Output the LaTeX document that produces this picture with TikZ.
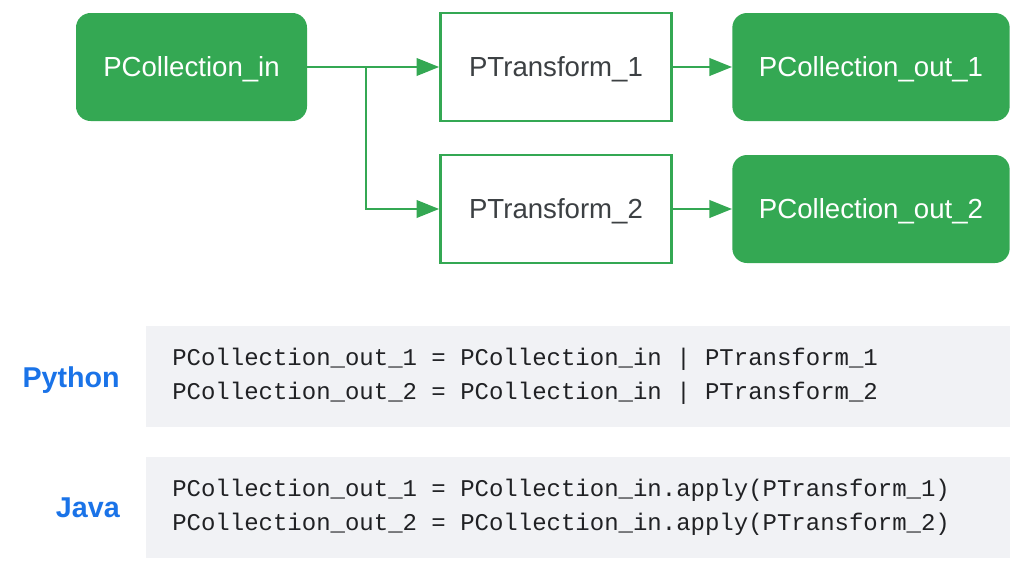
\documentclass[tikz,border=0pt]{standalone}
\usepackage{fontspec}
\setmainfont{Liberation Sans}
\newfontfamily\codefont{Liberation Mono}
\usetikzlibrary{arrows.meta}
\definecolor{gGreen}{HTML}{34A853}
\definecolor{gGray}{HTML}{3C4043}
\definecolor{gCode}{HTML}{202124}
\definecolor{gBg}{HTML}{F1F2F5}
\definecolor{gBlue}{HTML}{1A73E8}
\tikzset{
  pcoll/.style={draw=none, fill=gGreen, rounded corners=11pt, text=white,
    minimum width=208pt, minimum height=81pt, inner sep=0pt,
    font=\fontsize{20.7pt}{24pt}\selectfont, text height=14.8pt, text depth=0pt},
  ptrans/.style={draw=gGreen, line width=2.2pt, fill=white, text=gGray,
    minimum width=173pt, minimum height=81pt, inner sep=0pt,
    font=\fontsize{20.7pt}{24pt}\selectfont, text height=14.8pt, text depth=0pt},
  flow/.style={draw=gGreen, line width=2.2pt, -{Triangle[length=17pt,width=13pt]}},
  codebg/.style={draw=none, fill=gBg, inner sep=0pt},
  codeline/.style={anchor=base west, inner sep=0pt, text=gCode,
    font=\codefont\fontsize{18pt}{22pt}\selectfont},
  lang/.style={anchor=base east, inner sep=0pt, text=gBlue,
    font=\bfseries\fontsize{21.5pt}{25pt}\selectfont}
}
\begin{document}
\begin{tikzpicture}[x=0.75pt,y=-0.75pt]
\useasboundingbox (0,0) rectangle (1017,568);
% nodes
\node[pcoll, minimum width=173.25pt] (in) at (191.5,67) {PCollection\_in};
\node[ptrans] (t1) at (556,67) {PTransform\_1};
\node[ptrans] (t2) at (556,209) {PTransform\_2};
\node[pcoll] (o1) at (871,67) {PCollection\_out\_1};
\node[pcoll] (o2) at (871,209) {PCollection\_out\_2};
\coordinate (j) at (366,67);
% connectors
\draw[flow] (in.east) -- (t1.west);
\draw[flow] (j) |- (t2.west);
\draw[flow] (t1.east) -- (o1.west);
\draw[flow] (t2.east) -- (o2.west);
% code boxes
\path[codebg] (146,326) rectangle (1010,427);
\path[codebg] (146,457) rectangle (1010,558);
\node[lang] (py) at (120,387) {Python};
\node[lang] (jv) at (120,517) {Java};
\node[codeline] (py1) at (172,365) {PCollection\_out\_1 = PCollection\_in | PTransform\_1};
\node[codeline] (py2) at (172,399.5) {PCollection\_out\_2 = PCollection\_in | PTransform\_2};
\node[codeline] (jv1) at (172,496) {PCollection\_out\_1 = PCollection\_in.apply(PTransform\_1)};
\node[codeline] (jv2) at (172,530.5) {PCollection\_out\_2 = PCollection\_in.apply(PTransform\_2)};
\end{tikzpicture}
\end{document}
